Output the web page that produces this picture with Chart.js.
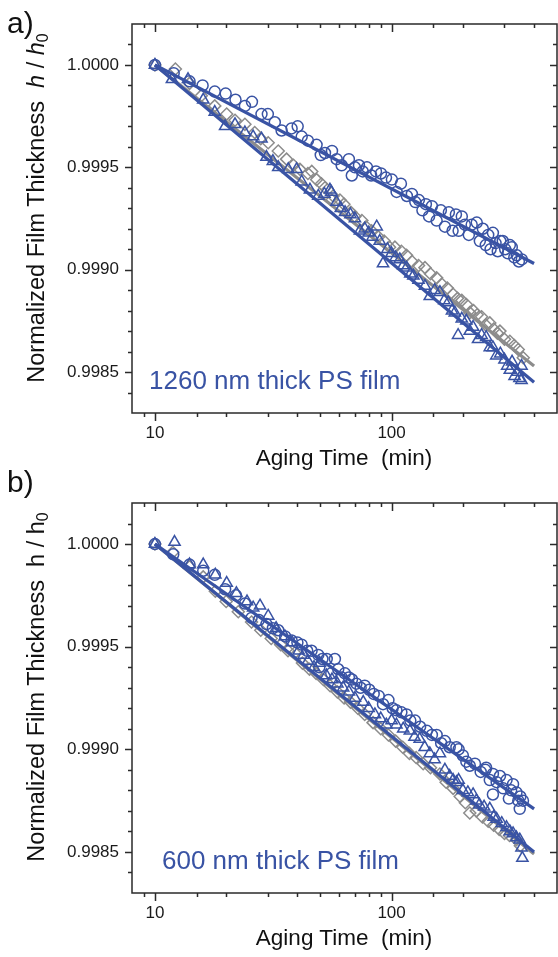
<!DOCTYPE html>
<html>
<head>
<meta charset="utf-8">
<script src="https://cdn.jsdelivr.net/npm/chart.js@4.4.1/dist/chart.umd.min.js"></script>
<style>
  body { margin: 0; background: #fff; }
  #page { position: relative; width: 558px; height: 957px; overflow: hidden;
          font-family: "Liberation Sans", Arial, sans-serif; color: #111; }
  canvas { position: absolute; left: 0; }
  .panel { position: absolute; font-size: 30px; line-height: 30px; }
  .ytitle { position: absolute; white-space: nowrap; font-size: 23.5px; line-height: 23px;
            transform: translate(-50%, -50%) rotate(-90deg); }
  .ytitle sub { font-size: 16px; line-height: 0; vertical-align: -4px; }
  .xtitle { position: absolute; white-space: pre; font-size: 22.5px; line-height: 22px;
            transform: translateX(-50%); }
  .note { position: absolute; white-space: nowrap; font-size: 26px; line-height: 26px; color: #3953a4; }
</style>
</head>
<body>
<div id="page">
  <canvas id="chartA" width="558" height="478" style="top:0"></canvas>
  <canvas id="chartB" width="558" height="479" style="top:478px"></canvas>

  <div class="panel" style="left:7px;top:8px">a)</div>
  <div class="panel" style="left:7px;top:467px">b)</div>

  <div class="ytitle" style="left:36px;top:208px">Normalized Film Thickness&nbsp;&nbsp;<i>h</i> / <i>h</i><sub>0</sub></div>
  <div class="ytitle" style="left:36px;top:687px">Normalized Film Thickness&nbsp;&nbsp;h / h<sub>0</sub></div>

  <div class="xtitle" style="left:344px;top:447px">Aging Time  (min)</div>
  <div class="xtitle" style="left:344px;top:927px">Aging Time  (min)</div>

  <div class="note" style="left:149px;top:367px">1260 nm thick PS film</div>
  <div class="note" style="left:162px;top:847px">600 nm thick PS film</div>
</div>

<script>
// ---- panel a: 1260 nm film ----
const tCircA = [10,12,14,15.9,17.9,19.9,21.9,24,25.7,28.2,30,32.1,34.3,37.8,40.1,41.7,44.3,48.2,50.2,52.3,56,58.6,61.5,66,67.9,70,72.8,75.5,78.7,82,85.9,90.2,94.7,100.3,105,109.5,116,121.8,126,130.4,135,139.6,144,148,155,161.5,168,174.6,181,187,192,198,204,212,218,229,236,243,250,256,262,268,275,281,288,295,302,310,316,322,330,338,345,355];
const hCircA = [1.00000,0.99996,0.99992,0.99990,0.99987,0.99986,0.99983,0.99980,0.99982,0.99976,0.99976,0.99972,0.99968,0.99969,0.99970,0.99965,0.99963,0.99961,0.99956,0.99957,0.99958,0.99954,0.99951,0.99954,0.99946,0.99950,0.99951,0.99948,0.99950,0.99946,0.99948,0.99947,0.99945,0.99944,0.99938,0.99942,0.99936,0.99937,0.99933,0.99934,0.99929,0.99932,0.99926,0.99931,0.99924,0.99929,0.99921,0.99928,0.99919,0.99927,0.99919,0.99926,0.99922,0.99917,0.99922,0.99923,0.99914,0.99920,0.99912,0.99917,0.99910,0.99918,0.99913,0.99909,0.99914,0.99914,0.99910,0.99908,0.99912,0.99911,0.99906,0.99907,0.99904,0.99905];

const tDiaA = [10,12.2,14,15.7,17.9,20.1,21.8,24,26.4,28,30.1,33.2,36,38.5,41,44.3,46,48.2,50.5,52.3,55.9,56.6,60.5,62.9,67.3,70,74.9,78,82.3,88,93,98,103.3,110,115.7,122,130,138.4,146,155,163,172,182,190,198,207,214,222,230,240,250,260,270,280,287,300,316,330,343,360];
const hDiaA = [1.00000,0.99998,0.99991,0.99985,0.99980,0.99976,0.99973,0.99971,0.99967,0.99964,0.99962,0.99958,0.99954,0.99951,0.99949,0.99947,0.99948,0.99944,0.99942,0.99940,0.99934,0.99936,0.99934,0.99932,0.99928,0.99926,0.99924,0.99921,0.99919,0.99916,0.99914,0.99911,0.99911,0.99909,0.99907,0.99904,0.99902,0.99901,0.99898,0.99896,0.99893,0.99891,0.99888,0.99886,0.99885,0.99883,0.99879,0.99880,0.99878,0.99877,0.99873,0.99874,0.99871,0.99869,0.99870,0.99866,0.99865,0.99863,0.99861,0.99857];

const tTriA = [10,11.8,13.8,16,17.9,19.8,21.8,24,26,28.2,29.6,31.5,33.2,36.6,39.7,41.7,45.2,49,52,54.9,55.6,58.5,61,63.6,67,70,73.5,77,80,83,86.5,89.1,92,96,99.9,104,108.3,112,115.7,120,123.6,130,138.4,145,152,160,167,173.5,180,185,191,198,207,214,221,232,240,251,260,268,277,288,300,308,316,323,331,340,347,354,354];
const hTriA = [1.00000,0.99993,0.99993,0.99983,0.99977,0.99970,0.99971,0.99967,0.99965,0.99964,0.99955,0.99953,0.99950,0.99949,0.99949,0.99943,0.99939,0.99936,0.99937,0.99939,0.99938,0.99933,0.99930,0.99928,0.99927,0.99925,0.99919,0.99920,0.99918,0.99916,0.99921,0.99914,0.99903,0.99910,0.99908,0.99906,0.99905,0.99902,0.99901,0.99898,0.99897,0.99895,0.99892,0.99887,0.99890,0.99889,0.99885,0.99884,0.99880,0.99879,0.99868,0.99876,0.99875,0.99870,0.99872,0.99866,0.99868,0.99867,0.99862,0.99862,0.99858,0.99859,0.99856,0.99853,0.99851,0.99855,0.99848,0.99850,0.99847,0.99853,0.99846];

// ---- panel b: 600 nm film ----
const tCircB = [10,11.95,14,16,17.9,19.8,22,24,25.6,27.5,29.6,31.5,33.2,35.5,37.8,40,41.7,44,45.9,49,49.5,51,53.2,55.6,57.6,59.5,61.5,63.5,66,68,71,74,77,80.5,84,88.2,92,97,101,104.8,110,115.7,120,125.6,132,140.9,148,155,162,167.9,176,187.9,192,200,207,214,225,238,249,251,260,268,268,278,287,296,306,313,320,326,337,343,348,350,359];
const hCircB = [1.00000,0.99995,0.99990,0.99987,0.99985,0.99978,0.99975,0.99971,0.99964,0.99963,0.99961,0.99959,0.99958,0.99955,0.99953,0.99952,0.99951,0.99948,0.99948,0.99946,0.99940,0.99944,0.99944,0.99937,0.99944,0.99939,0.99935,0.99937,0.99935,0.99934,0.99932,0.99930,0.99931,0.99929,0.99927,0.99926,0.99922,0.99924,0.99920,0.99919,0.99918,0.99917,0.99914,0.99914,0.99911,0.99909,0.99907,0.99907,0.99903,0.99904,0.99901,0.99901,0.99900,0.99897,0.99894,0.99892,0.99893,0.99889,0.99890,0.99891,0.99885,0.99888,0.99878,0.99884,0.99887,0.99881,0.99885,0.99876,0.99880,0.99883,0.99879,0.99875,0.99871,0.99877,0.99875];

const tDiaB = [10,11.9,14,16,18,20,22.5,25.6,28,31,34,36.5,39,42,45,48,51.5,55,59,63,67,72,77,83.5,90,97,104,111.5,119,127,136,146,160,170,182,195,205,214,228,242,256,270,285,300,315,337,350];
const hDiaB = [1.00000,0.99996,0.99989,0.99984,0.99977,0.99972,0.99967,0.99962,0.99958,0.99954,0.99951,0.99948,0.99947,0.99942,0.99939,0.99937,0.99934,0.99931,0.99928,0.99925,0.99923,0.99920,0.99917,0.99913,0.99910,0.99907,0.99904,0.99901,0.99898,0.99896,0.99893,0.99891,0.99888,0.99884,0.99881,0.99877,0.99874,0.99869,0.99870,0.99867,0.99865,0.99863,0.99861,0.99859,0.99858,0.99856,0.99853];

const tTriB = [10,12.1,14,16,18,20.1,22.1,24.5,26,27.8,30.1,32.5,35.4,38,40.5,42.5,44.3,47,49.7,53,56,59,62.4,66,70,75.9,80,85,90,95,100,104.8,112,119.5,125,131.5,138,145,152,160,168,176,182,188,192,200,210,221,228,235,246,260,270,278,292,306,316,326,337,348,354,357];
const hTriB = [1.00000,1.00001,0.99990,0.99990,0.99985,0.99981,0.99976,0.99972,0.99969,0.99970,0.99965,0.99959,0.99955,0.99952,0.99948,0.99946,0.99943,0.99940,0.99942,0.99936,0.99934,0.99932,0.99930,0.99928,0.99925,0.99923,0.99920,0.99917,0.99915,0.99912,0.99914,0.99912,0.99910,0.99909,0.99906,0.99905,0.99901,0.99898,0.99895,0.99898,0.99890,0.99887,0.99885,0.99884,0.99885,0.99880,0.99879,0.99878,0.99875,0.99873,0.99872,0.99871,0.99867,0.99866,0.99864,0.99862,0.99860,0.99859,0.99857,0.99856,0.99852,0.99847];

// fitted lines, end points
const fitT = [10, 400];
const fitCircA = [1.0000, 0.99903];
const fitDiaA = [1.0000, 0.99853];
const fitTriA = [1.0000, 0.99845];
const fitCircB = [1.0000, 0.99871];
const fitDiaB = [1.0000, 0.99849];
const fitTriB = [1.0000, 0.99850];

const BLUE = "#3953a4";
const GRAY = "#8c8c8c";
const AXIS = "#2a2a2a";

Chart.defaults.font.family = '"Liberation Sans", Arial, sans-serif';
Chart.defaults.color = "#1a1a1a";

const pts = (xs, ys) => xs.map((x, i) => ({ x, y: ys[i] }));

const isDecade = (v) => Math.abs(Math.log10(v) - Math.round(Math.log10(v))) < 1e-9;

// frame on all four sides, ticks out on left/bottom, mirrored inward on top/right
const frame = {
  id: "frame",
  afterDraw(chart) {
    const { ctx, chartArea: a, scales: { x, y } } = chart;
    ctx.save();
    ctx.strokeStyle = AXIS;
    ctx.lineWidth = 1.5;
    ctx.strokeRect(a.left, a.top, a.right - a.left, a.bottom - a.top);
    ctx.beginPath();
    x.ticks.forEach((t) => {
      if (t.value <= x.min || t.value >= x.max) return;
      const px = Math.round(x.getPixelForValue(t.value)) + 0.5;
      const len = isDecade(t.value) ? 8 : 4;
      ctx.moveTo(px, a.bottom); ctx.lineTo(px, a.bottom + len);
      ctx.moveTo(px, a.top); ctx.lineTo(px, a.top + len);
    });
    y.ticks.forEach((t) => {
      if (t.value <= y.min + 1e-9 || t.value >= y.max - 1e-9) return;
      const py = Math.round(y.getPixelForValue(t.value)) + 0.5;
      const len = Math.round(t.value * 10000) % 5 === 0 ? 7 : 4;
      ctx.moveTo(a.left, py); ctx.lineTo(a.left - len, py);
      ctx.moveTo(a.right, py); ctx.lineTo(a.right - len, py);
    });
    ctx.stroke();
    ctx.restore();
  },
};

const markers = (label, xs, ys, style, color, radius, order) => ({
  label,
  data: pts(xs, ys),
  pointStyle: style,
  pointRadius: radius,
  pointHoverRadius: radius,
  pointBorderWidth: 1.5,
  borderColor: color,
  backgroundColor: "rgba(0,0,0,0)",
  showLine: false,
  order,
});

const fitLine = (label, ys, color, order) => ({
  label,
  data: pts(fitT, ys),
  showLine: true,
  pointRadius: 0,
  borderColor: color,
  borderWidth: 3.2,
  order,
});

const buildPanel = (canvas, padTop, xHeight, series) =>
  new Chart(canvas, {
    type: "scatter",
    data: { datasets: series },
    options: {
      responsive: false,
      animation: false,
      devicePixelRatio: 1,
      layout: { autoPadding: false, padding: { top: padTop, right: 1, left: 0, bottom: 0 } },
      plugins: { legend: { display: false }, tooltip: { enabled: false } },
      scales: {
        x: {
          type: "logarithmic",
          min: 8,
          max: 500,
          grid: { display: false, drawTicks: false },
          border: { display: false },
          ticks: {
            autoSkip: false,
            maxRotation: 0,
            padding: 10,
            font: { size: 17 },
            callback: (v) => (isDecade(v) ? String(Math.round(v)) : ""),
          },
          afterFit: (s) => {
            s.height = xHeight;
            s.paddingLeft = 0;
            s.paddingRight = 0;
          },
        },
        y: {
          min: 0.9983,
          max: 1.0002,
          grid: { display: false, drawTicks: false },
          border: { display: false },
          ticks: {
            stepSize: 0.0001,
            autoSkip: false,
            padding: 13,
            font: { size: 17 },
            callback: (v) => (Math.round(v * 10000) % 5 === 0 ? v.toFixed(4) : ""),
          },
          afterFit: (s) => {
            s.width = 132;
            s.paddingTop = 0;
            s.paddingBottom = 0;
          },
        },
      },
    },
    plugins: [frame],
  });

buildPanel(document.getElementById("chartA"), 24, 65, [
  fitLine("circles fit", fitCircA, BLUE, 0),
  fitLine("triangles fit", fitTriA, BLUE, 0),
  markers("circles", tCircA, hCircA, "circle", BLUE, 5.5, 1),
  markers("triangles", tTriA, hTriA, "triangle", BLUE, 6.5, 2),
  fitLine("diamonds fit", fitDiaA, GRAY, 3),
  markers("diamonds", tDiaA, hDiaA, "rectRot", GRAY, 6, 4),
]);

buildPanel(document.getElementById("chartB"), 25, 64, [
  fitLine("circles fit", fitCircB, BLUE, 0),
  fitLine("triangles fit", fitTriB, BLUE, 0),
  markers("circles", tCircB, hCircB, "circle", BLUE, 5.5, 1),
  markers("triangles", tTriB, hTriB, "triangle", BLUE, 6.5, 2),
  fitLine("diamonds fit", fitDiaB, GRAY, 3),
  markers("diamonds", tDiaB, hDiaB, "rectRot", GRAY, 6, 4),
]);
</script>
</body>
</html>
